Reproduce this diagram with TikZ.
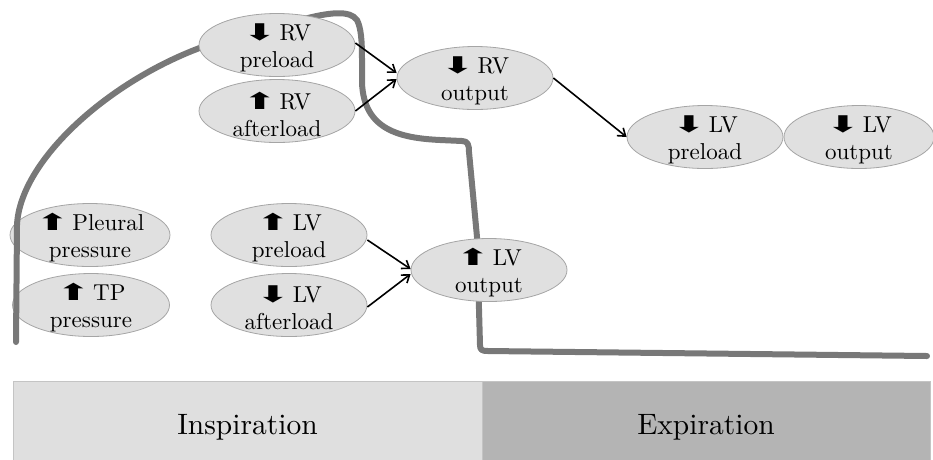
\documentclass[tikz,border=0pt]{standalone}
\usepackage{fontspec}
\usepackage{graphicx}
\setmainfont{lmroman10-regular.otf}[BoldFont=lmroman10-bold.otf,ItalicFont=lmroman10-italic.otf]
\newfontfamily\arrfont{DejaVu Sans}
\usetikzlibrary{shapes.geometric,arrows.meta}
\definecolor{ovfill}{HTML}{E0E0E0}
\definecolor{ovdraw}{HTML}{A5A5A5}
\definecolor{curvecol}{HTML}{787878}
\definecolor{inspcol}{HTML}{DFDFDF}
\definecolor{expicol}{HTML}{B4B4B4}
\definecolor{boxline}{HTML}{C4C4C4}
\newcommand\arrUp{{\arrfont\fontsize{23}{23}\selectfont\scalebox{1.75}[1]{⬆}}\hspace{3pt}}
\newcommand\arrDn{{\arrfont\fontsize{23}{23}\selectfont\scalebox{1.75}[1]{⬇}}\hspace{3pt}}
\begin{document}
\begin{tikzpicture}[x=1pt,y=-1pt,
  ov/.style={ellipse,draw=ovdraw,line width=0.8pt,fill=ovfill,minimum width=156pt,minimum height=63pt,inner sep=0pt},
  lbl/.style={align=center,font=\fontsize{23}{27}\selectfont,inner sep=0pt},
  conn/.style={line width=1.6pt,-{Straight Barb[length=7pt,width=10pt]}},
  thick curve/.style={draw=curvecol,line width=6pt,line cap=round,line join=round},
  barlabel/.style={anchor=base,font=\fontsize{29.5}{31}\selectfont}]
\clip (0,0) rectangle (933,459);
% phase bars
\fill[inspcol] (13,381) rectangle (482,465);
\fill[expicol] (482,381) rectangle (930,465);
\draw[boxline,line width=0.8pt] (13,465) -- (13,381) -- (930,381) -- (930,465);
\draw[boxline,line width=0.8pt] (482,381) -- (482,465);
\node[barlabel] (insp) at (247.5,434) {Inspiration};
\node[barlabel] (expi) at (706,434) {Expiration};
% left ellipses (under the curve)
\node[ov,minimum width=160pt] (pp) at (90,235) {};
\node[lbl] (pptxt) at ([yshift=-3pt]pp.center) {\arrUp Pleural\\pressure};
\node[ov,minimum width=157pt] (tp) at (91,305) {};
\node[lbl] (tptxt) at ([yshift=-3pt]tp.center) {\arrUp TP\\pressure};
% thick gray curve
\path[thick curve] (16,342) -- (17,225) .. controls (20,160) and (110,80) .. (205,46)
  -- (300,20) .. controls (330,12) and (350,10) .. (357,20)
  .. controls (361,28) and (362,40) .. (362,60) -- (362,83)
  .. controls (364,130) and (400,138) .. (440,140) -- (462,141)
  .. controls (468,141) and (469,145) .. (469,152) -- (477,237) -- (480,345)
  .. controls (480,350) and (482,351) .. (488,351) -- (927,356);
% other ellipses
\node[ov] (rvp) at (277,45) {};
\node[lbl] (rvptxt) at ([yshift=-3pt]rvp.center) {\arrDn RV\\preload};
\node[ov] (rva) at (277,111) {};
\node[lbl] (rvatxt) at ([yshift=-3pt]rva.center) {\arrUp RV\\afterload};
\node[ov] (rvo) at (475,78) {};
\node[lbl] (rvotxt) at ([yshift=-3pt]rvo.center) {\arrDn RV\\output};
\node[ov] (lvpr) at (705,137) {};
\node[lbl] (lvprtxt) at ([yshift=-3pt]lvpr.center) {\arrDn LV\\preload};
\node[ov,minimum width=150pt] (lvor) at (859,137) {};
\node[lbl] (lvortxt) at ([yshift=-3pt]lvor.center) {\arrDn LV\\output};
\node[ov] (lvpl) at (289,235) {};
\node[lbl] (lvpltxt) at ([yshift=-3pt]lvpl.center) {\arrUp LV\\preload};
\node[ov] (lval) at (289,305) {};
\node[lbl] (lvaltxt) at ([yshift=-3pt]lval.center) {\arrDn LV\\afterload};
\node[ov] (lvol) at (489,270) {};
\node[lbl] (lvoltxt) at ([yshift=-3pt]lvol.center) {\arrUp LV\\output};
% connectors
\draw[conn] ([yshift=2pt]rvp.east) -- ([yshift=5pt]rvo.west);
\draw[conn] (rva.east) -- ([yshift=-1pt]rvo.west);
\draw[conn] (rvo.east) -- (lvpr.west);
\draw[conn] ([yshift=-5pt]lvpl.east) -- ([yshift=1pt]lvol.west);
\draw[conn] ([yshift=-2pt]lval.east) -- ([yshift=-4pt]lvol.west);
\end{tikzpicture}
\end{document}
